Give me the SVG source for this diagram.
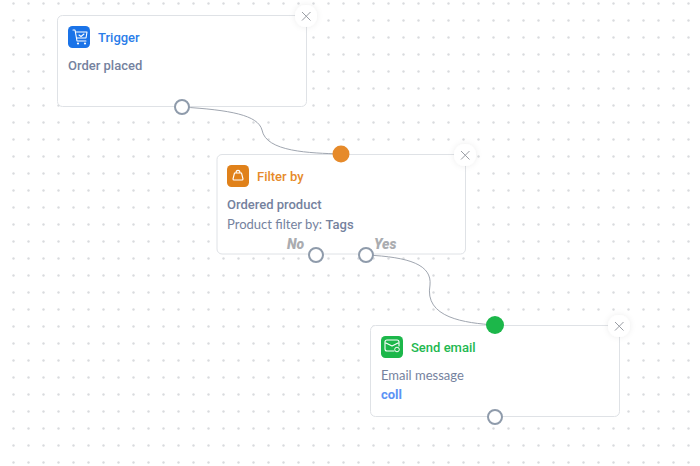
<svg xmlns="http://www.w3.org/2000/svg" width="700" height="466" viewBox="0 0 700 466">
<defs>
<pattern id="dots" x="6" y="-5" width="15" height="17" patternUnits="userSpaceOnUse"><rect x="6.3" y="7.300" width="2.400" height="2.400" rx="1.200" fill="#d9dbde"/></pattern>
<filter id="sh" x="-60%" y="-60%" width="220%" height="220%"><feDropShadow dx="0" dy="0" stdDeviation="3" flood-color="#000" flood-opacity="0.08"/></filter>
</defs>
<style>
.card{fill:#fff;stroke:#dfe2e6;stroke-width:1}
.x{stroke:#989ca3;stroke-width:1;fill:none}
.xb{fill:#fff;filter:url(#sh)}
.port{fill:#fff;stroke:#8f9bab;stroke-width:2}
.wire{fill:none;stroke:#a0a6b0;stroke-width:1}
.t{font:500 13px Roboto,"Liberation Sans",sans-serif}
.b{font:500 13px Roboto,"Liberation Sans",sans-serif;fill:#75829e}
.r{font:400 13px Lato,"Liberation Sans",sans-serif;fill:#75829e}
.c{font:700 13px Roboto,"Liberation Sans",sans-serif;fill:#5b93f5}
.i{font:italic 900 14px Roboto,"Liberation Sans",sans-serif;fill:#aaacb0}
.g{fill:none;stroke:#fff;stroke-width:1.100;stroke-linecap:round;stroke-linejoin:round}
</style>
<rect width="700" height="466" fill="#fff"/>
<rect width="700" height="466" fill="url(#dots)"/>
<g id="node-trigger">
<rect class="card" x="57.500" y="15.500" width="249" height="91" rx="5"/>
<rect x="68" y="26" width="22" height="22" rx="4.500" fill="#1a73e8"/>
<path class="g" d="M73 30h2l2 11h9M76 32h11l-1 6h-9"/><circle cx="78" cy="43.500" r="1.100" fill="#fff"/><circle cx="85" cy="43.500" r="1.100" fill="#fff"/><path class="g" d="M79 35l2 1.500 3-2.500"/>
<text class="t" x="98" y="42" fill="#2b7de9">Trigger</text>
<text class="b" x="68" y="70">Order placed</text>
<circle class="xb" cx="306" cy="16" r="11"/><path class="x" d="M302 12l8.500 8.500M310.500 12l-8.500 8.500"/>
</g>
<g id="node-filter">
<rect class="card" x="217" y="154.500" width="248.500" height="99.500" rx="5"/>
<rect x="227" y="165" width="22" height="22" rx="4.500" fill="#e0811a"/>
<path class="g" d="M234.500 173h7l1.500 6a1 1 0 0 1-1 1h-8a1 1 0 0 1-1-1zM236 173c0-3.500 4-3.500 4 0"/>
<text class="t" x="257" y="181" fill="#e68a2a">Filter by</text>
<text class="b" x="227" y="209">Ordered product</text>
<text class="r" x="227" y="229">Product filter by: <tspan class="b">Tags</tspan></text>
<text class="i" x="287" y="249">No</text>
<text class="i" x="374" y="249">Yes</text>
<circle class="xb" cx="465" cy="155" r="11"/><path class="x" d="M461 151l8.500 8.500M469.500 151l-8.500 8.500"/>
</g>
<g id="node-email">
<rect class="card" x="370.500" y="325.500" width="249" height="91" rx="5"/>
<rect x="381" y="336" width="22" height="22" rx="4.500" fill="#1cb74a"/>
<path class="g" d="M394 351h-7a2 2 0 0 1-2-2v-7a2 2 0 0 1 2-2h10a2 2 0 0 1 2 2v4M386 343l6 3 6-3"/><circle cx="397" cy="349.500" r="2.300" fill="none" stroke="#fff"/>
<text class="t" x="411" y="352" fill="#22b84f">Send email</text>
<text class="r" x="381" y="380">Email message</text>
<text class="c" x="381" y="399">coll</text>
<circle class="xb" cx="619" cy="326" r="11"/><path class="x" d="M615 322l8.500 8.500M623.500 322l-8.500 8.500"/>
</g>
<g id="connectors">
<path class="wire" d="M182 107C230 110 258 115 262 130C266 152 310 153 341 154"/>
<path class="wire" d="M366 255C410 257 432 265 430 285C424 318 465 323 495 325"/>
</g>
<g id="ports">
<circle class="port" cx="182" cy="107" r="7"/>
<circle cx="341" cy="154" r="8.500" fill="#e68a2a"/>
<circle class="port" cx="316" cy="255" r="7"/>
<circle class="port" cx="366" cy="255" r="7"/>
<circle cx="495" cy="325" r="9" fill="#1cb74a"/>
<circle class="port" cx="495" cy="417" r="7"/>
</g>
</svg>
